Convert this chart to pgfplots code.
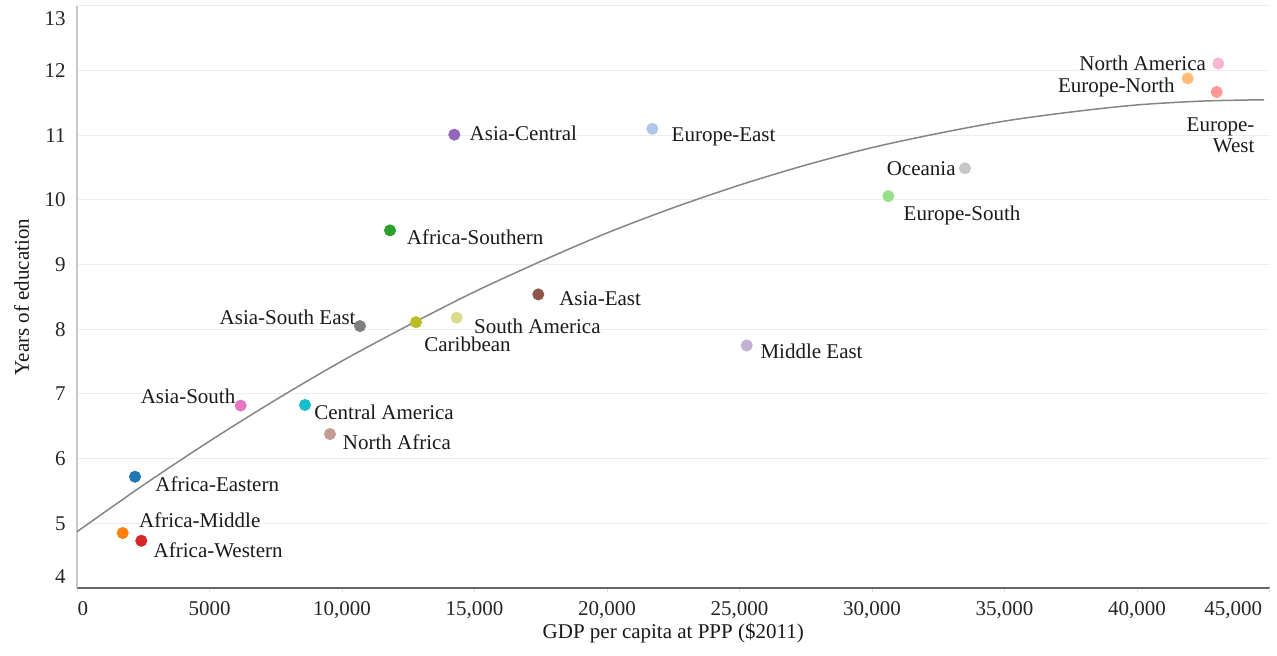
\documentclass[border=0pt]{standalone}
\usepackage{fontspec}
\setmainfont{Liberation Serif}
\usepackage{pgfplots}
\pgfplotsset{compat=1.18}
\definecolor{cAE}{HTML}{1F77B4}
\definecolor{cAM}{HTML}{FF7F0E}
\definecolor{cAW}{HTML}{D62728}
\definecolor{cAS}{HTML}{2CA02C}
\definecolor{cAC}{HTML}{9467BD}
\definecolor{cAEa}{HTML}{8C564B}
\definecolor{cASo}{HTML}{E377C2}
\definecolor{cASE}{HTML}{7F7F7F}
\definecolor{cCar}{HTML}{BCBD22}
\definecolor{cCAm}{HTML}{17BECF}
\definecolor{cEE}{HTML}{AEC7E8}
\definecolor{cEN}{HTML}{FFBB78}
\definecolor{cES}{HTML}{98DF8A}
\definecolor{cEW}{HTML}{FF9896}
\definecolor{cME}{HTML}{C5B0D5}
\definecolor{cNAf}{HTML}{C49C94}
\definecolor{cNAm}{HTML}{F7B6D2}
\definecolor{cOc}{HTML}{C7C7C7}
\definecolor{cSA}{HTML}{DBDB8D}
\definecolor{axisdark}{HTML}{666666}
\definecolor{axislight}{HTML}{C8C8C8}
\definecolor{gridc}{HTML}{EDEDED}
\definecolor{curvec}{HTML}{858585}
\definecolor{labtext}{HTML}{1A1A1A}
\tikzset{lab/.style={font=\fontsize{10.5}{10.5}\selectfont, inner sep=0pt, text=labtext}}
\pgfplotsset{dot/.style={only marks, mark=*, mark size=2.8pt, color=#1, mark options={draw=none, fill=#1}}}
\begin{document}
\fontsize{10.5}{12}\selectfont
\begin{tikzpicture}
\begin{axis}[
  scale only axis, width=596.25pt, height=291pt,
  xmin=0, xmax=45000, ymin=4, ymax=13,
  clip=false,
  scaled x ticks=false, scaled y ticks=false,
  axis x line*=bottom, axis y line*=left,
  x axis line style={-, draw=axisdark, line width=1.3pt},
  y axis line style={-, draw=axislight, line width=0.6pt},
  xtick={0,5000,...,40000},
  xticklabels={\hspace*{6pt}0,5000,{10,000},{15,000},{20,000},{25,000},{30,000},{35,000},{40,000}},
  extra x ticks={45000},
  extra x tick labels={{45{,}000}},
  extra x tick style={xticklabel style={anchor=north east}},
  ytick={4,...,13},
  yticklabels={\smash{\raisebox{2pt}{4}},5,6,7,8,9,10,11,12,\smash{\raisebox{-10pt}{13}}},
  ymajorgrids, grid style={draw=gridc, line width=0.5pt},
  ytick style={draw=none},
  xtick style={draw=gray!25, line width=0.4pt},
  tick align=outside, major tick length=2pt,
  tick label style={font=\fontsize{10.5}{12}\selectfont, text=black!85},
  xticklabel style={yshift=-1pt},
  /pgf/number format/assume math mode=true,
  xlabel={GDP per capita at PPP (\$2011)},
  ylabel={Years of education},
  xlabel style={at={(axis description cs:0.5,0)}, anchor=center, yshift=-22.5pt, font=\fontsize{10.5}{12}\selectfont, text=black!90},
  ylabel style={at={(axis description cs:-0.0465,0.5)}, anchor=center, font=\fontsize{10.5}{12}\selectfont, text=black!90},
]
\addplot[smooth, color=curvec, line width=0.75pt] coordinates {
 (0,4.87) (2500,5.59) (5000,6.27) (7500,6.91) (10000,7.51) (12500,8.06)
 (15000,8.58) (17500,9.05) (20000,9.49) (22500,9.88) (25000,10.23)
 (27500,10.54) (30000,10.81) (32500,11.03) (35000,11.22) (37500,11.36)
 (40000,11.47) (42500,11.53) (44800,11.55)};

\addplot[dot=cAE] coordinates {(2189,5.72)};
\addplot[dot=cAM] coordinates {(1725,4.85)};
\addplot[dot=cAW] coordinates {(2426,4.73)};
\addplot[dot=cASo] coordinates {(6177,6.82)};
\addplot[dot=cCAm] coordinates {(8604,6.83)};
\addplot[dot=cNAf] coordinates {(9547,6.38)};
\addplot[dot=cASE] coordinates {(10679,8.05)};
\addplot[dot=cCar] coordinates {(12792,8.11)};
\addplot[dot=cSA] coordinates {(14328,8.18)};
\addplot[dot=cAS] coordinates {(11811,9.53)};
\addplot[dot=cAC] coordinates {(14238,11.01)};
\addplot[dot=cEE] coordinates {(21709,11.10)};
\addplot[dot=cAEa] coordinates {(17408,8.54)};
\addplot[dot=cME] coordinates {(25272,7.75)};
\addplot[dot=cES] coordinates {(30615,10.06)};
\addplot[dot=cOc] coordinates {(33509,10.49)};
\addplot[dot=cNAm] coordinates {(43068,12.11)};
\addplot[dot=cEN] coordinates {(41913,11.88)};
\addplot[dot=cEW] coordinates {(43008,11.67)};

\node[lab, anchor=west, xshift=10pt, yshift=-3.5pt] at (axis cs:2189,5.72) {Africa-Eastern};
\node[lab, anchor=west, xshift=8pt, yshift=6.5pt] at (axis cs:1725,4.85) {Africa-Middle};
\node[lab, anchor=west, xshift=6pt, yshift=-4.5pt] at (axis cs:2426,4.73) {Africa-Western};
\node[lab, anchor=east, xshift=-2.5pt, yshift=4.5pt] at (axis cs:6177,6.82) {Asia-South};
\node[lab, anchor=west, xshift=4.5pt, yshift=-3.5pt] at (axis cs:8604,6.83) {Central America};
\node[lab, anchor=west, xshift=6.3pt, yshift=-4.2pt] at (axis cs:9547,6.38) {North Africa};
\node[lab, anchor=east, xshift=-2pt, yshift=4.5pt] at (axis cs:10679,8.05) {Asia-South East};
\node[lab, anchor=west, xshift=4pt, yshift=-11pt] at (axis cs:12792,8.11) {Caribbean};
\node[lab, anchor=west, xshift=8.5pt, yshift=-4.5pt] at (axis cs:14328,8.18) {South America};
\node[lab, anchor=west, xshift=8.3pt, yshift=-3.3pt] at (axis cs:11811,9.53) {Africa-Southern};
\node[lab, anchor=west, xshift=7.5pt, yshift=0.5pt] at (axis cs:14238,11.01) {Asia-Central};
\node[lab, anchor=west, xshift=9.5pt, yshift=-4pt] at (axis cs:21709,11.10) {Europe-East};
\node[lab, anchor=west, xshift=10.3pt, yshift=-2pt] at (axis cs:17408,8.54) {Asia-East};
\node[lab, anchor=west, xshift=6.7pt, yshift=-2.8pt] at (axis cs:25272,7.75) {Middle East};
\node[lab, anchor=west, xshift=7.5pt, yshift=-9.5pt] at (axis cs:30615,10.06) {Europe-South};
\node[lab, anchor=east, xshift=-4.5pt] at (axis cs:33509,10.49) {Oceania};
\node[lab, anchor=east, xshift=-6pt] at (axis cs:43068,12.11) {North America};
\node[lab, anchor=east, xshift=-6.3pt, yshift=-4.6pt] at (axis cs:41913,11.88) {Europe-North};
\node[lab, anchor=north east, align=right, xshift=19pt, yshift=-12.5pt] at (axis cs:43008,11.67) {Europe-\\West};
\end{axis}
\pgfresetboundingbox
\path ([shift={(-38.5pt,-34pt)}]current axis.south west) rectangle ([shift={(3.75pt,3pt)}]current axis.north east);
\end{tikzpicture}
\end{document}
